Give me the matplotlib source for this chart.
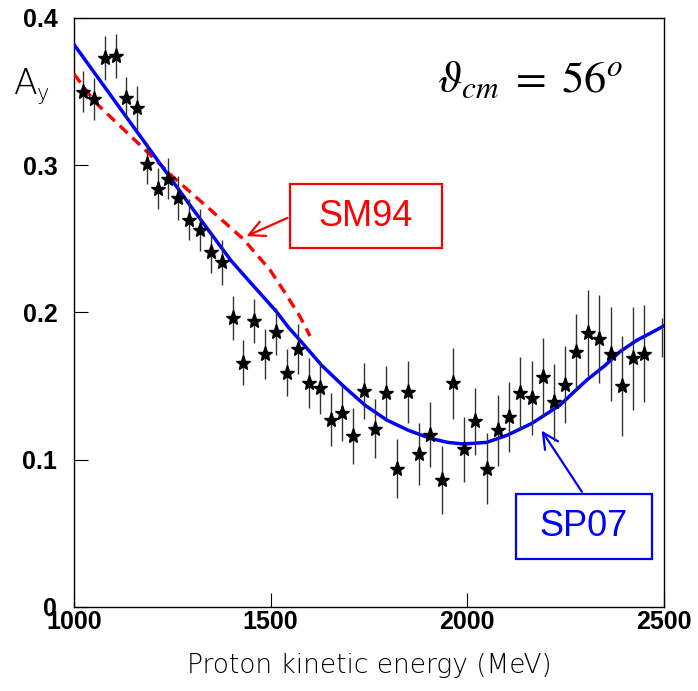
import numpy as np
import matplotlib
matplotlib.use("Agg")
import matplotlib.pyplot as plt
from matplotlib.patches import Rectangle

energy = [1024, 1051, 1078, 1106, 1132, 1159, 1186, 1213, 1239, 1265,
          1293, 1321, 1349, 1376, 1403, 1430, 1458, 1486, 1513, 1541,
          1569, 1597, 1625, 1653, 1681, 1709, 1737, 1765, 1793, 1822,
          1850, 1878, 1906, 1935, 1963, 1992, 2020, 2049, 2077, 2105,
          2135, 2164, 2192, 2221, 2249, 2277, 2308, 2336, 2364, 2392,
          2421, 2450]
ay = [0.350, 0.345, 0.373, 0.374, 0.346, 0.339, 0.301, 0.284, 0.291, 0.278,
      0.263, 0.256, 0.241, 0.234, 0.196, 0.166, 0.194, 0.172, 0.187, 0.159,
      0.175, 0.152, 0.149, 0.127, 0.132, 0.116, 0.147, 0.121, 0.145, 0.094,
      0.146, 0.104, 0.117, 0.086, 0.152, 0.107, 0.126, 0.094, 0.120, 0.129,
      0.145, 0.142, 0.156, 0.139, 0.151, 0.173, 0.186, 0.182, 0.172, 0.150,
      0.169, 0.172]
ay_err = [0.014, 0.014, 0.015, 0.015, 0.014, 0.015, 0.014, 0.014, 0.014, 0.015,
          0.014, 0.014, 0.014, 0.015, 0.015, 0.015, 0.015, 0.017, 0.016, 0.016,
          0.017, 0.017, 0.018, 0.018, 0.019, 0.019, 0.019, 0.020, 0.019, 0.020,
          0.021, 0.021, 0.022, 0.023, 0.024, 0.022, 0.023, 0.024, 0.024, 0.024,
          0.025, 0.025, 0.027, 0.026, 0.026, 0.026, 0.029, 0.030, 0.032, 0.034,
          0.035, 0.033]

# last point sits on the frame, only its error bar shows
edge_energy = [2494]
edge_ay = [0.183]
edge_err = [0.013]

# SP07 solution (solid blue)
sp07_e = [1000, 1100, 1200, 1300, 1400, 1443, 1480, 1515, 1545, 1575,
          1630, 1685, 1740, 1795, 1850, 1905, 1950, 1990, 2049, 2100,
          2164, 2235, 2303, 2350, 2388, 2430, 2473, 2500]
sp07_ay = [0.382, 0.345, 0.308, 0.271, 0.235, 0.222, 0.211, 0.2005, 0.190, 0.181,
           0.164, 0.150, 0.137, 0.127, 0.120, 0.1146, 0.1118, 0.1107, 0.1118, 0.1165,
           0.1247, 0.137, 0.154, 0.164, 0.1734, 0.181, 0.187, 0.191]

# SM94 solution (dashed red)
sm94_e = [1000, 1053, 1100, 1159, 1252, 1346, 1430, 1498, 1540, 1575, 1600]
sm94_ay = [0.362, 0.343, 0.331, 0.316, 0.292, 0.270, 0.250, 0.229, 0.212, 0.197, 0.184]

fig = plt.figure(figsize=(6.98, 6.91), dpi=100)
ax = fig.add_axes([74 / 698, 84 / 691, 590 / 698, 589 / 691])

ax.plot(sm94_e, sm94_ay, color="#ff0000", lw=2.4, ls=(0, (3.2, 2.0)), zorder=3)
ax.plot(sp07_e, sp07_ay, color="#0000ff", lw=2.5, zorder=3)

ax.errorbar(energy, ay, yerr=ay_err, fmt="*", color="black", ms=11,
            ecolor="#333333", elinewidth=1.0, capsize=0, zorder=4)
ax.errorbar(edge_energy, edge_ay, yerr=edge_err, fmt="none",
            ecolor="#333333", elinewidth=1.0, capsize=0, zorder=4)

# label boxes with arrows
ax.add_patch(Rectangle((1549, 0.2436), 386, 0.0434, fill=False,
                       ec="#ff0000", lw=1.6, zorder=5))
ax.text(1742, 0.2655, "SM94", color="#ff0000", fontsize=26,
        family="Liberation Sans", ha="center", va="center", zorder=6)
ax.annotate("", xy=(1432, 0.2511), xytext=(1549, 0.265),
            arrowprops=dict(arrowstyle="->", color="#ff0000", lw=1.6,
                            mutation_scale=28))

ax.add_patch(Rectangle((2123, 0.0326), 346, 0.0441, fill=False,
                       ec="#0000ff", lw=1.6, zorder=5))
ax.text(2296, 0.0546, "SP07", color="#0000ff", fontsize=26,
        family="Liberation Sans", ha="center", va="center", zorder=6)
ax.annotate("", xy=(2185, 0.1214), xytext=(2295, 0.0767),
            arrowprops=dict(arrowstyle="->", color="#0000ff", lw=1.6,
                            mutation_scale=28))

plt.rcParams["mathtext.fontset"] = "stix"
ax.text(1922, 0.350, r"$\vartheta_{cm}\;=\;56^{o}$", fontsize=32, ha="left",
        va="baseline")

ax.set_xlim(1000, 2500)
ax.set_ylim(0, 0.4)
ax.set_xticks([1000, 1500, 2000, 2500])
ax.set_yticks([0, 0.1, 0.2, 0.3, 0.4])
ax.set_yticklabels(["0", "0.1", "0.2", "0.3", "0.4"])
ax.tick_params(axis="y", direction="in", length=10, width=0.8, pad=12,
               labelsize=18)
ax.tick_params(axis="x", direction="in", length=10, width=0.8, pad=2,
               labelsize=18)
for lab in ax.get_xticklabels() + ax.get_yticklabels():
    lab.set_family("Liberation Sans")
    lab.set_fontweight("bold")
for sp in ax.spines.values():
    sp.set_linewidth(1.0)

ax.set_xlabel("Proton kinetic energy (MeV)", fontsize=19,
              family="DejaVu Sans", fontweight="light", labelpad=14)

fig.text(14 / 698, 1 - 94 / 691, "A", fontsize=25, family="DejaVu Sans",
         fontweight="light")
fig.text(37 / 698, 1 - 100 / 691, "y", fontsize=15, family="DejaVu Sans",
         fontweight="light")

fig.savefig("out.png", dpi=100)
